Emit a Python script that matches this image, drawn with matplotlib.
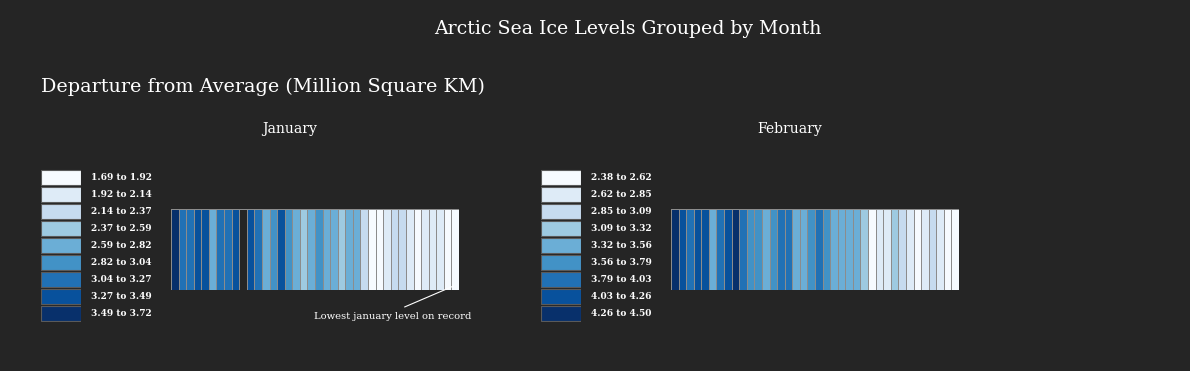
import numpy as np
import matplotlib
matplotlib.use("Agg")
import matplotlib.pyplot as plt
from matplotlib.colors import ListedColormap

# data: departure values per year (1979-2016); Jan 1988 is missing
years = list(range(1979, 2017))
jan_values = [3.72, 3.15, 3.10, 3.38, 3.41, 2.70, 3.12, 3.20, 3.35, None,
              3.30, 3.08, 2.75, 2.95, 3.31, 2.88, 2.66, 2.45, 2.72, 2.90,
              2.78, 2.63, 2.50, 2.69, 2.80, 2.25, 1.85, 1.80, 2.02, 2.20,
              2.30, 2.05, 1.88, 1.98, 2.10, 1.95, 1.78, 1.69]
feb_values = [4.50, 4.12, 3.90, 4.08, 4.15, 3.45, 3.95, 4.20, 4.40, 3.85,
              3.62, 3.70, 3.40, 3.66, 3.88, 3.98, 3.38, 3.48, 3.72, 3.83,
              3.60, 3.50, 3.35, 3.52, 3.44, 3.20, 2.50, 2.70, 2.75, 3.15,
              2.95, 2.66, 2.45, 2.80, 2.90, 2.72, 2.55, 2.38]
months = ["January", "February"]
blues9 = ["#f7fbff", "#deebf7", "#c6dbef", "#9ecae1", "#6baed6",
          "#4292c6", "#2171b5", "#08519c", "#08306b"]

BG = "#252525"
W, H = 1190, 371
SERIF = "DejaVu Serif"


def box(x0, y0, x1, y1):
    # pixel box -> figure fraction rect
    return [x0 / W, 1 - y1 / H, (x1 - x0) / W, (y1 - y0) / H]


fig = plt.figure(figsize=(W / 100, H / 100), dpi=100, facecolor=BG)
cmap = ListedColormap(blues9)

fig.text(628 / W, 1 - 29 / H, "Arctic Sea Ice Levels Grouped by Month",
         color="white", fontsize=13.6, family=SERIF, ha="center", va="center")
fig.text(41 / W, 1 - 87 / H, "Departure from Average (Million Square KM)",
         color="white", fontsize=13.8, family=SERIF, ha="left", va="center")


def draw_month(name, values, xoff, annotate=False):
    vals = np.array([np.nan if v is None else v for v in values], dtype=float)
    bins = np.linspace(np.nanmin(vals), np.nanmax(vals), 10)
    cls = np.clip(np.digitize(vals, bins[1:-1]), 0, 8).astype(float)
    cls[np.isnan(vals)] = np.nan

    fig.text((xoff + 290) / W, 1 - 129 / H, name, color="white",
             fontsize=10, family=SERIF, ha="center", va="center")

    # legend
    lax = fig.add_axes(box(xoff + 41, 169, xoff + 81, 322))
    lax.set_facecolor(BG)
    lax.barh(range(9), [1] * 9, height=0.88, left=0, color=blues9,
             edgecolor="#5a5a5a", linewidth=0.8)
    lax.set_xlim(0, 1)
    lax.set_ylim(8.5, -0.5)
    lax.axis("off")
    for i in range(9):
        lax.text(1.25, i, f"{bins[i]:.2f} to {bins[i + 1]:.2f}", color="white",
                 fontsize=6.5, fontweight="bold", family=SERIF, va="center",
                 ha="left", clip_on=False)

    # strip
    ax = fig.add_axes(box(xoff + 171, 209, xoff + 459, 290))
    ax.set_facecolor(BG)
    data = np.ma.masked_invalid(cls[np.newaxis, :])
    ax.pcolormesh(np.arange(len(years) + 1), [0, 1], data, cmap=cmap,
                  vmin=-0.5, vmax=8.5, edgecolors="#8c8c8c", linewidth=0.5)
    ax.set_xlim(0, len(years))
    ax.set_ylim(0, 1)
    ax.axis("off")

    if annotate:
        lo = int(np.nanargmin(vals))
        text_x = (393 - 171) / 288 * len(years)
        ax.annotate("Lowest january level on record", xy=(lo + 0.3, 0.05),
                    xytext=(text_x, -26), textcoords=("data", "offset pixels"),
                    color="white", fontsize=7.2, family=SERIF, ha="center",
                    va="top", annotation_clip=False,
                    arrowprops=dict(arrowstyle="-", color="white", lw=0.8,
                                    relpos=(0.5, 1.0), shrinkA=4, shrinkB=0))


draw_month(months[0], jan_values, 0, annotate=True)
draw_month(months[1], feb_values, 500)

fig.savefig("out.png", dpi=100, facecolor=BG)
